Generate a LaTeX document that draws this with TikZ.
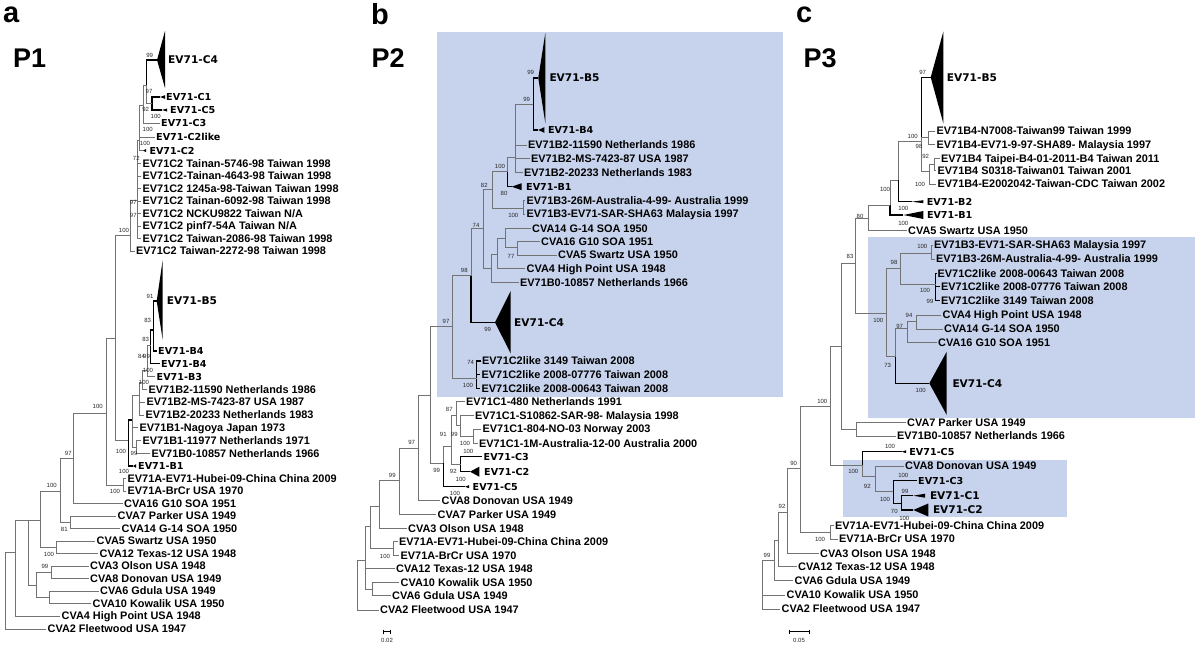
\documentclass[tikz,border=0pt]{standalone}
\usepackage{fontspec}
\setmainfont{Liberation Sans}
\newfontfamily\cladefont{DejaVu Sans}
\usetikzlibrary{positioning}
\definecolor{boxblue}{RGB}{199,211,236}
\tikzset{
    leaf/.style={
        anchor=west,
        inner xsep=1.5pt,
        inner ysep=0.5pt,
        font=\fontsize{10.9}{12}\selectfont\bfseries,
        text height=7.8pt,
        text depth=0pt
    },
    clade/.style={
        anchor=west,
        inner xsep=1.5pt,
        inner ysep=0.5pt,
        font=\cladefont\fontsize{9.6}{11}\selectfont\bfseries,
        text height=7pt,
        text depth=0pt
    },
    cladebig/.style={
        clade,
        font=\cladefont\fontsize{10.6}{12}\selectfont\bfseries,
        text height=7.7pt
    },
    boot/.style={
        inner sep=0pt,
        font=\fontsize{6}{6}\selectfont,
        text=black!85,
        text height=4.3pt,
        text depth=0pt
    },
    letter/.style={anchor=base west, inner sep=0pt, font=\fontsize{29}{29}\selectfont\bfseries},
    ptitle/.style={anchor=base west, inner sep=0pt, font=\fontsize{27}{27}\selectfont\bfseries},
    br/.style={draw=black!55, line width=0.8pt},
    bk/.style={draw=black, line width=1.1pt},
    scalebar/.style={draw=black, line width=0.7pt},
    shade/.style={fill=boxblue, draw=none}
}

\begin{document}
\begin{tikzpicture}[x=1pt, y=-1pt]
\useasboundingbox (0,0) rectangle (1195,645);

% Shaded groups
\fill[shade] (436.7,31.7) rectangle (782.7,396.7);
\fill[shade] (868,236.7) rectangle (1195,418);
\fill[shade] (843,460) rectangle (1067,517);

%%%%%%%%%%%%%%%% Panel a
\node[letter] (la) at (3,23) {a};
\node[ptitle] (p1) at (13,67) {P1};

% C clades
\coordinate (ac4) at (157,60);
\fill (ac4) -- ++(8,-29) -- ++(0,57) -- cycle;
\node[cladebig, right=9.5pt of ac4] (ac4l) {EV71-C4};
\coordinate (ac1) at (160,97);
\fill (ac1) -- ++(5,-1.8) -- ++(0,3.6) -- cycle;
\node[clade, right=4.5pt of ac1] (ac1l) {EV71-C1};
\coordinate (ac5) at (162,110);
\fill (ac5) -- ++(5,-1.5) -- ++(0,3) -- cycle;
\node[clade, right=6.5pt of ac5] (ac5l) {EV71-C5};
\node[clade] (ac3) at (159.5,123) {EV71-C3};
\node[clade] (ac2l) at (154.5,137) {EV71-C2like};
\coordinate (ac2) at (143,150.5);
\fill (ac2) -- ++(3,-1.5) -- ++(0,3) -- cycle;
\node[clade, right=4.8pt of ac2] (ac2n) {EV71-C2};
\node[leaf] (atw1) at (141,163.5) {EV71C2 Tainan-5746-98 Taiwan 1998};
\node[leaf] (atw2) at (141,176) {EV71C2-Tainan-4643-98 Taiwan 1998};
\node[leaf] (atw3) at (141,188.5) {EV71C2 1245a-98-Taiwan Taiwan 1998};
\node[leaf] (atw4) at (141,201) {EV71C2 Tainan-6092-98 Taiwan 1998};
\node[leaf] (atw5) at (141,213.5) {EV71C2 NCKU9822 Taiwan N/A};
\node[leaf] (atw6) at (141,226) {EV71C2 pinf7-54A Taiwan N/A};
\node[leaf] (atw7) at (141,238.5) {EV71C2 Taiwan-2086-98 Taiwan 1998};
\node[leaf] (atw8) at (134.5,251) {EV71C2 Taiwan-2272-98 Taiwan 1998};

\coordinate (an5) at (152,103);
\coordinate (an4) at (146.5,85);
\coordinate (an3) at (143,105);
\coordinate (an2) at (139.5,140);
\coordinate (an1) at (137,200);
\coordinate (an0) at (130,235);
\draw[bk] (an5) |- (ac1) (an5) |- (ac5);
\draw[bk] (an4) |- (ac4);
\draw[br] (an4) |- (an5);
\draw[br] (an3) |- (an4) (an3) |- (ac3);
\draw[br] (an2) |- (an3) (an2) |- (ac2l) (an2) |- (ac2);
\draw[br] (an1) |- (an2);
\foreach \i in {1,...,7} \draw[br] (an1) |- (atw\i);
\draw[br] (an0) |- (an1) (an0) |- (atw8);

% B clades
\coordinate (ab5) at (156.7,301);
\fill (ab5) -- ++(6,-41) -- ++(0,80) -- cycle;
\node[cladebig, right=8.5pt of ab5] (ab5l) {EV71-B5};
\node[clade] (ab4a) at (156.5,351) {EV71-B4};
\node[clade] (ab4b) at (159.5,363.5) {EV71-B4};
\node[clade] (ab3) at (155,376.5) {EV71-B3};
\node[leaf] (ab2a) at (147,389.5) {EV71B2-11590 Netherlands 1986};
\node[leaf] (ab2b) at (145,402) {EV71B2-MS-7423-87 USA 1987};
\node[leaf] (ab2c) at (144,415) {EV71B2-20233 Netherlands 1983};
\node[leaf] (ab1a) at (138,427.5) {EV71B1-Nagoya Japan 1973};
\node[leaf] (ab1b) at (141,440.5) {EV71B1-11977 Netherlands 1971};
\node[leaf] (ab0) at (150,453.5) {EV71B0-10857 Netherlands 1966};
\coordinate (ab1) at (133,466);
\fill (ab1) -- ++(3,-1.8) -- ++(0,3.6) -- cycle;
\node[clade, right=3.5pt of ab1] (ab1l) {EV71-B1};

\coordinate (abn7) at (153.3,330);
\coordinate (abn6) at (150.5,345);
\coordinate (abn5) at (147,370);
\coordinate (abn4) at (142.5,382);
\coordinate (abn3) at (139.5,395);
\coordinate (abn2) at (136.7,447);
\coordinate (abn1) at (132,420);
\coordinate (abn0) at (128.3,440);
\draw[bk] (abn7) |- (ab5) (abn7) |- (ab4a);
\draw[bk] (abn6) |- (abn7) (abn6) |- (ab4b);
\draw[br] (abn5) |- (abn6) (abn5) |- (ab3);
\draw[br] (abn4) |- (abn5) (abn4) |- (ab2a);
\draw[br] (abn3) |- (abn4) (abn3) |- (ab2b) (abn3) |- (ab2c);
\draw[br] (abn2) |- (ab1b) (abn2) |- (ab0);
\draw[br] (abn1) |- (abn3) (abn1) |- (ab1a) (abn1) |- (abn2);
\draw[bk] (abn0) |- (abn1) (abn0) |- (ab1);

% Outgroups
\node[leaf] (aa1) at (126,478.5) {EV71A-EV71-Hubei-09-China China 2009};
\node[leaf] (aa2) at (126,491) {EV71A-BrCr USA 1970};
\node[leaf] (a16) at (122.5,503.5) {CVA16 G10 SOA 1951};
\node[leaf] (a7) at (116,516) {CVA7 Parker USA 1949};
\node[leaf] (a14) at (120,528.5) {CVA14 G-14 SOA 1950};
\node[leaf] (a5) at (95,541) {CVA5 Swartz USA 1950};
\node[leaf] (a12) at (98,553.5) {CVA12 Texas-12 USA 1948};
\node[leaf] (a3) at (88.5,566) {CVA3 Olson USA 1948};
\node[leaf] (a8) at (88.5,578.5) {CVA8 Donovan USA 1949};
\node[leaf] (a6) at (98.5,591) {CVA6 Gdula USA 1949};
\node[leaf] (a10) at (91,603.5) {CVA10 Kowalik USA 1950};
\node[leaf] (a4) at (60,616) {CVA4 High Point USA 1948};
\node[leaf] (a2) at (46,629) {CVA2 Fleetwood USA 1947};

\coordinate (aan) at (123.3,485);
\coordinate (ar7) at (115,338);
\coordinate (ar6) at (106,413);
\coordinate (ar5) at (73.3,458);
\coordinate (aq7) at (70.7,522);
\coordinate (ar4) at (60,491);
\coordinate (aq5) at (56.7,547);
\coordinate (ar3) at (40,520);
\coordinate (aq3) at (51.7,572.5);
\coordinate (aq6) at (49.3,597);
\coordinate (agr) at (36.7,585);
\coordinate (ar2) at (28.3,520);
\coordinate (ar1) at (15,552);
\coordinate (ar0) at (5,600);
\draw[br] (aan) |- (aa1) (aan) |- (aa2);
\draw[br] (ar7) |- (an0) (ar7) |- (abn0);
\draw[br] (ar6) |- (ar7) (ar6) |- (aan);
\draw[br] (ar5) |- (ar6) (ar5) |- (a16);
\draw[br] (aq7) |- (a7) (aq7) |- (a14);
\draw[br] (ar4) |- (ar5) (ar4) |- (aq7);
\draw[br] (aq5) |- (a5) (aq5) |- (a12);
\draw[br] (ar3) |- (ar4) (ar3) |- (aq5);
\draw[br] (aq3) |- (a3) (aq3) |- (a8);
\draw[br] (aq6) |- (a6) (aq6) |- (a10);
\draw[br] (agr) |- (aq3) (agr) |- (aq6);
\draw[br] (ar2) |- (ar3) (ar2) |- (agr);
\draw[br] (ar1) |- (ar2) (ar1) |- (a4);
\draw[br] (ar0) |- (ar1) (ar0) |- (a2);

\foreach \x/\y/\t [count=\i] in {149.7/55.7/99, 149/91.7/97, 145.7/109.3/92,
    155.7/116.7/100, 147.7/129.3/100, 145/143.3/100, 136.3/158.3/72,
    133.3/202.3/97, 133.3/215/97, 124/230/100, 150/296/91, 147.7/320.7/83,
    145.7/339.3/83, 141.5/356/84, 146.5/356/99, 148/370/100, 144/382.7/100,
    97.7/406.7/100, 68.3/453.3/97, 121/451/100, 134/453.5/99, 124/471.7/100,
    51.7/485/100, 115/491.7/100, 64.3/529/81, 49/554/100, 45/566.7/99}
    \node[boot] (bsa\i) at (\x,\y) {\t};

%%%%%%%%%%%%%%%% Panel b
\node[letter] (lb) at (371,24) {b};
\node[ptitle] (p2) at (371.5,67) {P2};

% B clades
\coordinate (bb5) at (538.3,78);
\fill (bb5) -- ++(7,-45) -- ++(0,90) -- cycle;
\node[cladebig, right=9.5pt of bb5] (bb5l) {EV71-B5};
\coordinate (bb4) at (538.3,130);
\fill (bb4) -- ++(6,-2.8) -- ++(0,5.6) -- cycle;
\node[clade, right=8pt of bb4] (bb4l) {EV71-B4};
\node[leaf] (bb2a) at (526.5,145) {EV71B2-11590 Netherlands 1986};
\node[leaf] (bb2b) at (529.5,158.3) {EV71B2-MS-7423-87 USA 1987};
\node[leaf] (bb2c) at (522.5,172.3) {EV71B2-20233 Netherlands 1983};
\coordinate (bb1) at (511.7,186.7);
\fill (bb1) -- ++(10,-3.5) -- ++(0,7) -- cycle;
\node[clade, right=12.8pt of bb1] (bb1l) {EV71-B1};
\node[leaf] (bb3a) at (525,200.7) {EV71B3-26M-Australia-4-99- Australia 1999};
\node[leaf] (bb3b) at (525,214) {EV71B3-EV71-SAR-SHA63 Malaysia 1997};
\node[leaf] (b14) at (530.5,228.3) {CVA14 G-14 SOA 1950};
\node[leaf] (b16) at (539.5,241.7) {CVA16 G10 SOA 1951};
\node[leaf] (b5) at (556.5,255) {CVA5 Swartz USA 1950};
\node[leaf] (b4) at (525,268.3) {CVA4 High Point USA 1948};
\node[leaf] (bb0) at (518.5,282.7) {EV71B0-10857 Netherlands 1966};

% C clades
\coordinate (bc4) at (495,322.3);
\fill (bc4) -- ++(15.7,-31.3) -- ++(0,62.6) -- cycle;
\node[cladebig, right=17.5pt of bc4] (bc4l) {EV71-C4};
\node[leaf] (bl1) at (480.5,361) {EV71C2like 3149 Taiwan 2008};
\node[leaf] (bl2) at (480,374.3) {EV71C2like 2008-07776 Taiwan 2008};
\node[leaf] (bl3) at (480,388.3) {EV71C2like 2008-00643 Taiwan 2008};
\node[leaf] (bc1a) at (464.5,401.7) {EV71C1-480 Netherlands 1991};
\node[leaf] (bc1b) at (473.5,415.7) {EV71C1-S10862-SAR-98- Malaysia 1998};
\node[leaf] (bc1c) at (481,429) {EV71C1-804-NO-03 Norway 2003};
\node[leaf] (bc1d) at (477.5,443.3) {EV71C1-1M-Australia-12-00 Australia 2000};
\node[clade] (bc3) at (482,456.7) {EV71-C3};
\coordinate (bc2) at (470,471.7);
\fill (bc2) -- ++(9.3,-5) -- ++(0,10) -- cycle;
\node[clade, right=12.5pt of bc2] (bc2l) {EV71-C2};
\coordinate (bc5) at (465,486.7);
\fill (bc5) -- ++(4,-1.5) -- ++(0,3) -- cycle;
\node[clade, right=6pt of bc5] (bc5l) {EV71-C5};

% Outgroups
\node[leaf] (b8) at (440,500.7) {CVA8 Donovan USA 1949};
\node[leaf] (b7) at (436,514.3) {CVA7 Parker USA 1949};
\node[leaf] (b3) at (406.5,528.3) {CVA3 Olson USA 1948};
\node[leaf] (ba1) at (397.5,541.7) {EV71A-EV71-Hubei-09-China China 2009};
\node[leaf] (ba2) at (399,555.7) {EV71A-BrCr USA 1970};
\node[leaf] (b12) at (394.5,568.3) {CVA12 Texas-12 USA 1948};
\node[leaf] (b10) at (399,582.7) {CVA10 Kowalik USA 1950};
\node[leaf] (b6) at (390.5,595.7) {CVA6 Gdula USA 1949};
\node[leaf] (b2) at (378.5,610) {CVA2 Fleetwood USA 1947};

\coordinate (bnb5) at (533.3,104.3);
\coordinate (bnb2) at (515,157);
\coordinate (bnb1) at (507.7,171.7);
\coordinate (bnb3) at (523.3,208.3);
\coordinate (bnb0) at (492.3,189.7);
\coordinate (bnu) at (517.7,247);
\coordinate (bnt) at (505.7,238);
\coordinate (bns) at (497.7,254.3);
\coordinate (bnr) at (491,268.3);
\coordinate (bnq) at (483.3,228);
\coordinate (bnp) at (471,275.7);
\coordinate (bnl2) at (476.7,378.3);
\coordinate (bno) at (452.3,326.7);
\coordinate (bnh) at (473.3,436);
\coordinate (bng) at (460.7,425);
\coordinate (bne) at (456.7,415);
\coordinate (bnf) at (460.7,464);
\coordinate (bnd) at (451.7,446);
\coordinate (bnc) at (443.3,463.3);
\coordinate (bnn) at (430,395);
\coordinate (bnm) at (418.3,448.3);
\coordinate (bnl) at (399.3,480.7);
\coordinate (bnk) at (379.3,506);
\coordinate (bna) at (393.3,548.7);
\coordinate (bnj) at (370,526.7);
\coordinate (bnv) at (372.7,589);
\coordinate (bni) at (365,560);
\coordinate (bnr0) at (357.3,590);
\draw[bk] (bnb5) |- (bb5) (bnb5) |- (bb4);
\draw[br] (bnb2) |- (bnb5) (bnb2) |- (bb2a) (bnb2) |- (bb2b) (bnb2) |- (bb2c);
\draw[br] (bnb1) |- (bnb2);
\draw[bk] (bnb1) |- (bb1);
\draw[br] (bnb3) |- (bb3a) (bnb3) |- (bb3b);
\draw[br] (bnb0) |- (bnb1) (bnb0) |- (bnb3);
\draw[br] (bnu) |- (b16) (bnu) |- (b5);
\draw[br] (bnt) |- (b14) (bnt) |- (bnu);
\draw[br] (bns) |- (bnt) (bns) |- (b4);
\draw[br] (bnr) |- (bns) (bnr) |- (bb0);
\draw[br] (bnq) |- (bnb0) (bnq) |- (bnr);
\draw[br] (bnp) |- (bnq);
\draw[bk] (bnp) |- (bc4);
\draw[bk] (bnl2) |- (bl1) (bnl2) |- (bl2) (bnl2) |- (bl3);
\draw[br] (bno) |- (bnp) (bno) |- (bnl2);
\draw[br] (bnh) |- (bc1c) (bnh) |- (bc1d);
\draw[br] (bng) |- (bc1b) (bng) |- (bnh);
\draw[br] (bne) |- (bc1a) (bne) |- (bng);
\draw[bk] (bnf) |- (bc3) (bnf) |- (bc2);
\draw[br] (bnd) |- (bne) (bnd) |- (bnf);
\draw[br] (bnc) |- (bnd);
\draw[bk] (bnc) |- (bc5);
\draw[br] (bnn) |- (bno) (bnn) |- (bnc);
\draw[br] (bnm) |- (bnn) (bnm) |- (b8);
\draw[br] (bnl) |- (bnm) (bnl) |- (b7);
\draw[br] (bnk) |- (bnl) (bnk) |- (b3);
\draw[br] (bna) |- (ba1) (bna) |- (ba2);
\draw[br] (bnj) |- (bnk) (bnj) |- (bna);
\draw[br] (bnv) |- (b10) (bnv) |- (b6);
\draw[br] (bni) |- (bnj) (bni) |- (b12) (bni) |- (bnv);
\draw[br] (bnr0) |- (bni) (bnr0) |- (b2);

\foreach \x/\y/\t [count=\i] in {530.7/72.3/99, 526.7/99.3/99, 500/166.7/100,
    484.3/185/82, 504/193.3/80, 513.3/215/100, 476/225/74, 511/256/77,
    464.3/270.7/98, 446/321.7/97, 487.7/329.3/99, 470.7/362/74, 468/385.7/100,
    449.3/409.3/87, 443.3/434/91, 454.3/434/99, 465/443.3/100, 468.3/451.7/100,
    436.7/470/99, 453.3/471.7/92, 460.7/479/100, 455/493.3/100, 411.7/442.7/97,
    392.3/475.7/99, 385/556.7/100}
    \node[boot] (bsb\i) at (\x,\y) {\t};

% scale
\coordinate (sbb1) at (383.3,631.7);
\coordinate (sbb2) at (390.3,631.7);
\draw[scalebar] (sbb1) -- (sbb2) (sbb1) ++(0,-2) -- ++(0,4) (sbb2) ++(0,-2) -- ++(0,4);
\node[boot] (sbbl) at (387,640.5) {0.02};

%%%%%%%%%%%%%%%% Panel c
\node[letter] (lc) at (796,23) {c};
\node[ptitle] (p3) at (803.5,67) {P3};

% B clades
\coordinate (cb5) at (930.7,77.3);
\fill (cb5) -- ++(12.6,-45.6) -- ++(0,91.6) -- cycle;
\node[cladebig, right=14.5pt of cb5] (cb5l) {EV71-B5};
\node[leaf] (cb4a) at (935,131) {EV71B4-N7008-Taiwan99 Taiwan 1999};
\node[leaf] (cb4b) at (935,144.3) {EV71B4-EV71-9-97-SHA89- Malaysia 1997};
\node[leaf] (cb4c) at (939.5,158.3) {EV71B4 Taipei-B4-01-2011-B4 Taiwan 2011};
\node[leaf] (cb4d) at (936,170.7) {EV71B4 S0318-Taiwan01 Taiwan 2001};
\node[leaf] (cb4e) at (936,184) {EV71B4-E2002042-Taiwan-CDC Taiwan 2002};
\coordinate (cb2) at (911.7,201.7);
\fill (cb2) -- ++(11.6,-1.5) -- ++(0,3) -- cycle;
\node[clade, right=13.5pt of cb2] (cb2l) {EV71-B2};
\coordinate (cb1) at (903.3,215);
\fill (cb1) -- ++(20,-4) -- ++(0,8) -- cycle;
\node[clade, right=22pt of cb1] (cb1l) {EV71-B1};
\node[leaf] (c5) at (906.5,230.7) {CVA5 Swartz USA 1950};

% shaded group
\node[leaf] (cb3a) at (932.5,245) {EV71B3-EV71-SAR-SHA63 Malaysia 1997};
\node[leaf] (cb3b) at (934.5,259) {EV71B3-26M-Australia-4-99- Australia 1999};
\node[leaf] (cl1) at (936,273.3) {EV71C2like 2008-00643 Taiwan 2008};
\node[leaf] (cl2) at (939.5,286.7) {EV71C2like 2008-07776 Taiwan 2008};
\node[leaf] (cl3) at (939.5,300.7) {EV71C2like 3149 Taiwan 2008};
\node[leaf] (c4) at (941,315) {CVA4 High Point USA 1948};
\node[leaf] (c14) at (942.5,329) {CVA14 G-14 SOA 1950};
\node[leaf] (c16) at (936.5,342.7) {CVA16 G10 SOA 1951};
\coordinate (cc4) at (929.3,383.3);
\fill (cc4) -- ++(17.4,-31.6) -- ++(0,63.3) -- cycle;
\node[cladebig, right=21.5pt of cc4] (cc4l) {EV71-C4};
\node[leaf] (c7) at (905.5,422.7) {CVA7 Parker USA 1949};
\node[leaf] (cb0) at (895.5,436) {EV71B0-10857 Netherlands 1966};

% C clades
\coordinate (cc5) at (901.7,451.7);
\fill (cc5) -- ++(4.5,-1.5) -- ++(0,3) -- cycle;
\node[clade, right=6pt of cc5] (cc5l) {EV71-C5};
\node[leaf] (c8) at (903.5,466) {CVA8 Donovan USA 1949};
\node[clade] (cc3) at (916.5,480.7) {EV71-C3};
\coordinate (cc1) at (913.3,495.7);
\fill (cc1) -- ++(11.7,-2) -- ++(0,4) -- cycle;
\node[cladebig, right=15pt of cc1] (cc1l) {EV71-C1};
\coordinate (cc2) at (913.3,510);
\fill (cc2) -- ++(15,-6.5) -- ++(0,13) -- cycle;
\node[cladebig, right=18pt of cc2] (cc2l) {EV71-C2};

% Outgroups
\node[leaf] (ca1) at (833.5,525.7) {EV71A-EV71-Hubei-09-China China 2009};
\node[leaf] (ca2) at (837.5,539) {EV71A-BrCr USA 1970};
\node[leaf] (c3) at (818.5,553.3) {CVA3 Olson USA 1948};
\node[leaf] (c12) at (796.5,566.7) {CVA12 Texas-12 USA 1948};
\node[leaf] (c6) at (793,580.7) {CVA6 Gdula USA 1949};
\node[leaf] (c10) at (785,595) {CVA10 Kowalik USA 1950};
\node[leaf] (c2) at (780,609) {CVA2 Fleetwood USA 1947};

\coordinate (cnt3) at (928.3,137.7);
\coordinate (cnt5) at (934,164.5);
\coordinate (cnt4) at (929,171);
\coordinate (cnt1) at (921.5,141.7);
\coordinate (cnt0) at (898.3,180);
\coordinate (cnta) at (890,205);
\coordinate (cntb) at (868.3,218);
\coordinate (cnth) at (931.7,253.3);
\coordinate (cnti) at (935.7,284);
\coordinate (cntg) at (900,268.3);
\coordinate (cntj) at (916.7,321.7);
\coordinate (cntf) at (907.3,328.3);
\coordinate (cnte) at (895.7,356.7);
\coordinate (cntd) at (886.7,313.3);
\coordinate (cntc) at (855.7,263.3);
\coordinate (cntq) at (856.7,429.3);
\coordinate (cntl) at (841.7,346.7);
\coordinate (cntp) at (901.7,503.3);
\coordinate (cnto) at (893.3,491.7);
\coordinate (cntn) at (875,476.7);
\coordinate (cntm) at (862.3,465);
\coordinate (cntk) at (830,406.7);
\coordinate (cna) at (830,532.3);
\coordinate (cntr) at (800.3,468.3);
\coordinate (cnd) at (787,512);
\coordinate (cnb) at (778.7,540);
\coordinate (cnca) at (774.7,560);
\coordinate (cnr0) at (762,585);
\draw[br] (cnt3) |- (cb4a) (cnt3) |- (cb4b);
\draw[br] (cnt5) |- (cb4c) (cnt5) |- (cb4d);
\draw[br] (cnt4) |- (cnt5) (cnt4) |- (cb4e);
\draw[bk] (cnt1) |- (cb5);
\draw[br] (cnt1) |- (cnt3) (cnt1) |- (cnt4);
\draw[br] (cnt0) |- (cnt1);
\draw[bk] (cnt0) |- (cb2);
\draw[br] (cnta) |- (cnt0);
\draw[bk] (cnta) |- (cb1);
\draw[br] (cntb) |- (cnta) (cntb) |- (c5);
\draw[br] (cnth) |- (cb3a) (cnth) |- (cb3b);
\draw[bk] (cnti) |- (cl1) (cnti) |- (cl2) (cnti) |- (cl3);
\draw[br] (cntg) |- (cnth) (cntg) |- (cnti);
\draw[br] (cntj) |- (c4) (cntj) |- (c14);
\draw[br] (cntf) |- (cntj) (cntf) |- (c16);
\draw[br] (cnte) |- (cntf);
\draw[bk] (cnte) |- (cc4);
\draw[br] (cntd) |- (cntg) (cntd) |- (cnte);
\draw[br] (cntc) |- (cntb) (cntc) |- (cntd);
\draw[br] (cntq) |- (c7) (cntq) |- (cb0);
\draw[br] (cntl) |- (cntc) (cntl) |- (cntq);
\draw[bk] (cntp) |- (cc1) (cntp) |- (cc2);
\draw[bk] (cnto) |- (cc3) (cnto) |- (cntp);
\draw[br] (cntn) |- (c8) (cntn) |- (cnto);
\draw[bk] (cntm) |- (cc5);
\draw[br] (cntm) |- (cntn);
\draw[br] (cntk) |- (cntl) (cntk) |- (cntm);
\draw[br] (cna) |- (ca1) (cna) |- (ca2);
\draw[br] (cntr) |- (cntk) (cntr) |- (cna);
\draw[br] (cnd) |- (cntr) (cnd) |- (c3);
\draw[br] (cnb) |- (cnd) (cnb) |- (c12);
\draw[br] (cnca) |- (cnb) (cnca) |- (c6);
\draw[br] (cnr0) |- (cnca) (cnr0) |- (c10) (cnr0) |- (c2);

\foreach \x/\y/\t [count=\i] in {922.7/72.7/97, 912.7/136/100, 919/146/98,
    925.7/156.7/92, 920/184/100, 885/189/100, 903.3/208.3/100, 903.3/223.3/100,
    860/216.7/80, 850/256.7/83, 922.3/246/100, 894/262.7/98, 925/290/100,
    930/301/99, 909/315/94, 899.7/326.7/97, 878.3/320/100, 887.7/365/73,
    920.7/390/100, 822.3/401/100, 890/446/100, 853.3/471.7/100, 867.3/486.7/92,
    903.3/475/100, 885/499/100, 905/491/99, 894.3/511/70, 904.3/518.3/100,
    820/539.3/100, 793.7/463.3/90, 782/506/92, 767/555/99}
    \node[boot] (bsc\i) at (\x,\y) {\t};

% scale
\coordinate (sbc1) at (789,631.7);
\coordinate (sbc2) at (809.3,631.7);
\draw[scalebar] (sbc1) -- (sbc2) (sbc1) ++(0,-2) -- ++(0,4) (sbc2) ++(0,-2) -- ++(0,4);
\node[boot] (sbcl) at (799,640.5) {0.05};

\end{tikzpicture}
\end{document}
